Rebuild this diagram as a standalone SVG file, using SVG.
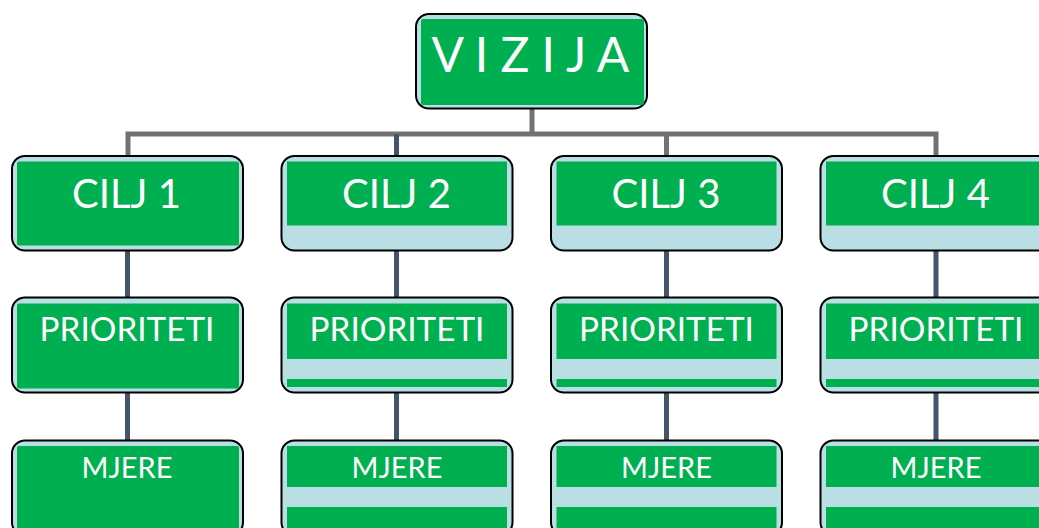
<svg xmlns="http://www.w3.org/2000/svg" width="1039" height="528" viewBox="0 0 1039 528">
<style>
.box{fill:#b9dfe4;stroke:#000;stroke-width:2}
.g{fill:#00b050}
.t{fill:#fff;font-family:Lato,"Open Sans","Liberation Sans",sans-serif;text-anchor:middle}
.grey{stroke:#767171;stroke-width:5;fill:none}
.slate{stroke:#44546a;stroke-width:5;fill:none}
</style>
<rect width="1039" height="528" fill="#fff"/>
<g id="connectors">
<path class="grey" d="M532,108 V134 M128,156 V134 H936 V156 M666.5,134 V156"/>
<path class="slate" d="M396.5,134 V156"/>
<path class="slate" d="M127.5,250 V297 M127.5,393 V440 M396.5,250 V297 M396.5,393 V440 M666.5,250 V297 M666.5,393 V440 M936,250 V297 M936,393 V440"/>
</g>
<g id="vizija">
<rect class="box" x="416" y="14" width="231" height="94.5" rx="13"/>
<rect class="g" x="421" y="19" width="223" height="86" rx="2"/>
<text class="t" x="530.5" y="72" font-size="48">V I Z I J A</text>
</g>
<g id="cilj1">
<rect class="box" x="12" y="156" width="231" height="94.5" rx="13"/>
<rect class="g" x="17" y="161.5" width="222" height="84" rx="2"/>
<text class="t" x="126.5" y="208" font-size="40">CILJ 1</text>
</g>
<g id="cilj2">
<rect class="box" x="281.5" y="156" width="231" height="94.5" rx="13"/>
<rect class="g" x="287" y="161.5" width="220" height="64"/>
<text class="t" x="396.5" y="208" font-size="40">CILJ 2</text>
</g>
<g id="cilj3">
<rect class="box" x="551" y="156" width="231" height="94.5" rx="13"/>
<rect class="g" x="556.5" y="161.5" width="220" height="64"/>
<text class="t" x="666" y="208" font-size="40">CILJ 3</text>
</g>
<g id="cilj4">
<rect class="box" x="820.5" y="156" width="231" height="94.5" rx="13"/>
<rect class="g" x="826" y="161.5" width="220" height="64"/>
<text class="t" x="935.5" y="208" font-size="40">CILJ 4</text>
</g>
<g id="prioriteti1">
<rect class="box" x="12" y="297.5" width="231" height="95" rx="13"/>
<rect class="g" x="17" y="303.5" width="222" height="85" rx="2"/>
<text class="t" x="127" y="341" font-size="33.3">PRIORITETI</text>
</g>
<g id="prioriteti2">
<rect class="box" x="281.5" y="297.5" width="231" height="95" rx="13"/>
<rect class="g" x="287" y="303.5" width="220" height="55.5"/>
<rect class="g" x="287" y="379" width="220" height="8"/>
<text class="t" x="397" y="341" font-size="33.3">PRIORITETI</text>
</g>
<g id="prioriteti3">
<rect class="box" x="551" y="297.5" width="231" height="95" rx="13"/>
<rect class="g" x="556.5" y="303.5" width="220" height="55.5"/>
<rect class="g" x="556.5" y="379" width="220" height="8"/>
<text class="t" x="666.5" y="341" font-size="33.3">PRIORITETI</text>
</g>
<g id="prioriteti4">
<rect class="box" x="820.5" y="297.5" width="231" height="95" rx="13"/>
<rect class="g" x="826" y="303.5" width="220" height="55.5"/>
<rect class="g" x="826" y="379" width="220" height="8"/>
<text class="t" x="936" y="341" font-size="33.3">PRIORITETI</text>
</g>
<g id="mjere1">
<rect class="box" x="12" y="440.5" width="231" height="95" rx="13"/>
<rect class="g" x="17" y="446" width="222" height="85" rx="2"/>
<text class="t" x="127" y="478" font-size="29">MJERE</text>
</g>
<g id="mjere2">
<rect class="box" x="281.5" y="440.5" width="231" height="95" rx="13"/>
<rect class="g" x="287" y="446" width="220" height="41"/>
<rect class="g" x="287" y="507" width="220" height="25"/>
<text class="t" x="397" y="478" font-size="29">MJERE</text>
</g>
<g id="mjere3">
<rect class="box" x="551" y="440.5" width="231" height="95" rx="13"/>
<rect class="g" x="556.5" y="446" width="220" height="41"/>
<rect class="g" x="556.5" y="507" width="220" height="25"/>
<text class="t" x="666.5" y="478" font-size="29">MJERE</text>
</g>
<g id="mjere4">
<rect class="box" x="820.5" y="440.5" width="231" height="95" rx="13"/>
<rect class="g" x="826" y="446" width="220" height="41"/>
<rect class="g" x="826" y="507" width="220" height="25"/>
<text class="t" x="936" y="478" font-size="29">MJERE</text>
</g>
</svg>
